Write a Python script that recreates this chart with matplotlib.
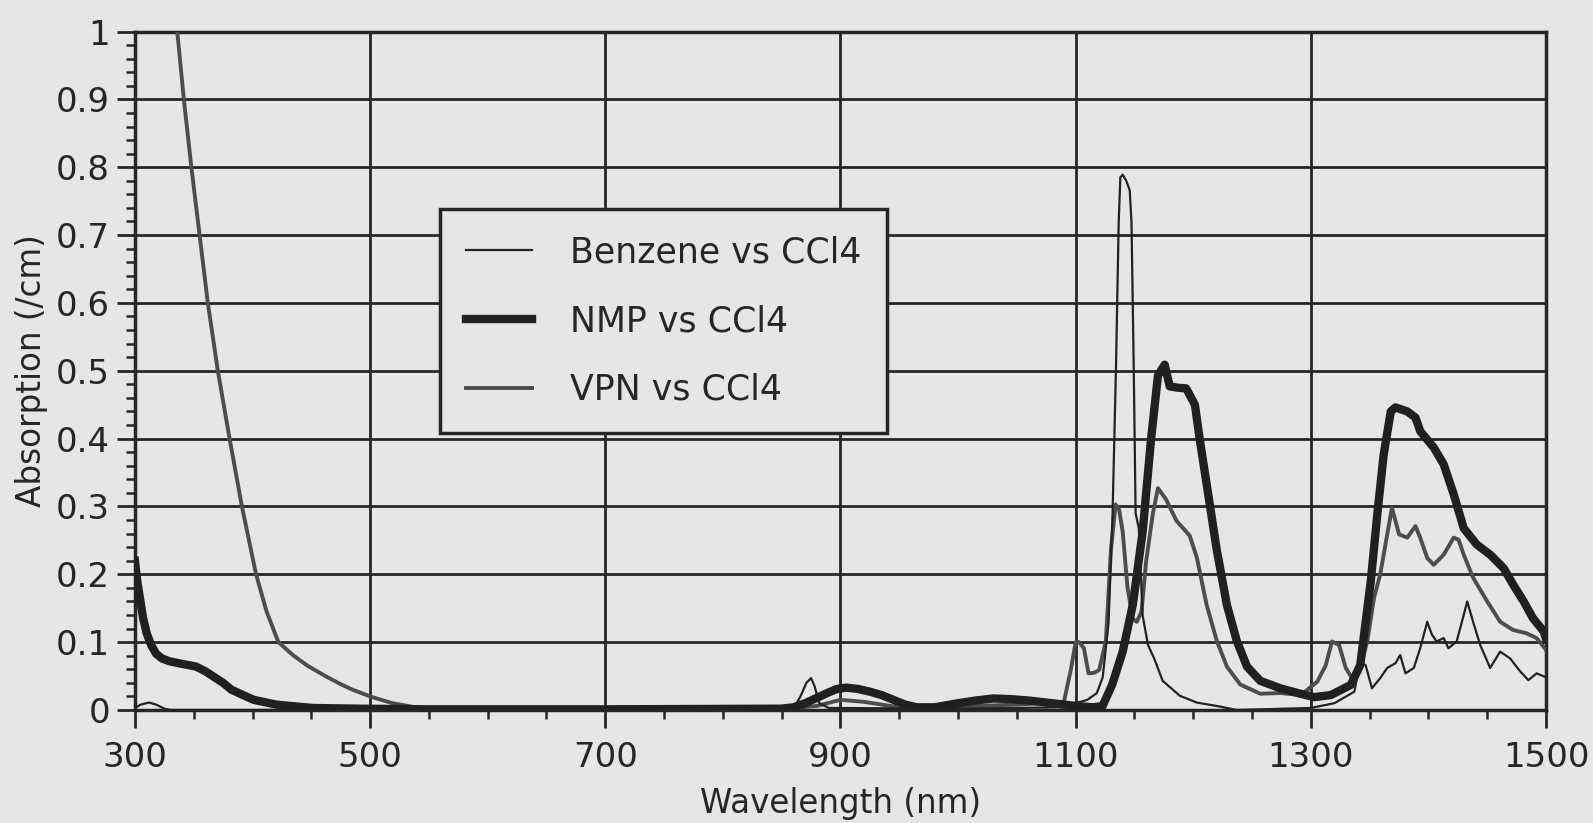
import matplotlib
matplotlib.use("Agg")
import matplotlib.pyplot as plt
from matplotlib.ticker import MultipleLocator

# Benzene vs CCl4 (thin line)
benz_wl = [300, 305, 312, 318, 325, 330, 600, 860, 866, 871, 875, 878, 882, 890,
           1000, 1090, 1098, 1104, 1110, 1118, 1123, 1128, 1131.4, 1134.3, 1136.6,
           1138, 1140, 1143, 1146, 1147.5, 1149.4, 1151, 1153.7, 1157, 1161.5, 1167,
           1174, 1188.6, 1203, 1223, 1237, 1300, 1320, 1330, 1337, 1342, 1346.6,
           1352, 1359, 1365, 1372, 1376, 1380.5, 1387.6, 1393, 1399, 1403, 1407,
           1413, 1417, 1424, 1430, 1433, 1438, 1444, 1452.5, 1461, 1469.5, 1478,
           1485, 1492, 1499, 1500]
benz_abs = [0.003, 0.008, 0.011, 0.008, 0.002, 0.0, 0.0, 0.002, 0.02, 0.04, 0.047,
            0.035, 0.01, 0.003, 0.002, 0.004, 0.01, 0.012, 0.015, 0.025, 0.048,
            0.129, 0.29, 0.504, 0.718, 0.785, 0.789, 0.78, 0.766, 0.718, 0.504,
            0.29, 0.268, 0.139, 0.096, 0.075, 0.043, 0.021, 0.011, 0.005, 0.0,
            0.003, 0.01, 0.02, 0.027, 0.071, 0.066, 0.032, 0.047, 0.062, 0.069,
            0.081, 0.054, 0.062, 0.091, 0.13, 0.111, 0.101, 0.106, 0.091, 0.101,
            0.14, 0.16, 0.13, 0.096, 0.062, 0.086, 0.076, 0.057, 0.044, 0.054,
            0.049, 0.05]

# NMP vs CCl4 (thick line)
nmp_wl = [300, 302, 304.5, 307, 310, 314, 318, 323, 329, 340, 352, 360, 367, 375,
          382, 392, 401, 420, 451, 489, 550, 700, 850, 860, 870, 880, 890, 897, 905,
          915, 925, 935, 945, 955, 965, 980, 1000, 1015, 1030, 1045, 1060, 1080,
          1100, 1115, 1122.9, 1131, 1140, 1148.6, 1157, 1164, 1170, 1175.7, 1180,
          1187, 1194, 1201.4, 1205.7, 1212.9, 1220, 1228.6, 1237, 1245.7, 1257,
          1274, 1291, 1303, 1317, 1334, 1342, 1351, 1356.5, 1362, 1368, 1372, 1382,
          1389, 1393, 1404.5, 1413, 1421.5, 1430, 1441, 1452.5, 1464, 1472, 1481,
          1489, 1498, 1500]
nmp_abs = [0.22, 0.19, 0.162, 0.135, 0.113, 0.095, 0.083, 0.076, 0.072, 0.068,
           0.064, 0.057, 0.049, 0.04, 0.03, 0.022, 0.015, 0.008, 0.003, 0.002,
           0.001, 0.001, 0.002, 0.004, 0.01, 0.018, 0.026, 0.031, 0.033, 0.031,
           0.027, 0.022, 0.015, 0.008, 0.004, 0.004, 0.01, 0.014, 0.017, 0.016,
           0.014, 0.01, 0.006, 0.004, 0.006, 0.037, 0.086, 0.155, 0.263, 0.397,
           0.493, 0.509, 0.477, 0.475, 0.474, 0.45, 0.397, 0.316, 0.236, 0.155,
           0.102, 0.064, 0.043, 0.032, 0.024, 0.019, 0.022, 0.037, 0.066, 0.19,
           0.288, 0.377, 0.44, 0.446, 0.44, 0.431, 0.411, 0.387, 0.362, 0.318,
           0.268, 0.244, 0.229, 0.209, 0.185, 0.16, 0.135, 0.116, 0.105]

# VPN vs CCl4 (grey line)
vpn_wl = [333, 336, 341.6, 348, 355, 362, 370.5, 380.5, 391, 403, 412, 422, 435,
          447, 462, 475, 485, 500, 519, 542, 555, 700, 860, 880, 900, 920, 950,
          1000, 1050, 1090, 1096, 1100, 1103, 1107, 1111, 1116, 1120, 1125.7, 1130,
          1134, 1137, 1140, 1144, 1148.6, 1152, 1156, 1160, 1165.7, 1170, 1177,
          1185.7, 1197, 1203, 1211.4, 1220, 1228.6, 1240, 1257, 1274, 1291.5,
          1305.6, 1312.7, 1318, 1324, 1329.7, 1335, 1342, 1348, 1353.7, 1359, 1365,
          1369, 1375, 1382, 1389, 1393, 1399, 1404.5, 1413, 1421.5, 1425.7, 1430,
          1438, 1450, 1461, 1472, 1483.6, 1492, 1499, 1500]
vpn_abs = [1.05, 1.0, 0.9, 0.8, 0.7, 0.6, 0.5, 0.4, 0.3, 0.2, 0.145, 0.1, 0.08,
           0.065, 0.05, 0.038, 0.03, 0.02, 0.01, 0.003, 0.0, 0.0, 0.003, 0.006,
           0.015, 0.012, 0.004, 0.005, 0.008, 0.012, 0.06, 0.1, 0.1, 0.091, 0.054,
           0.055, 0.059, 0.102, 0.236, 0.303, 0.295, 0.263, 0.182, 0.134, 0.13,
           0.145, 0.22, 0.29, 0.327, 0.31, 0.279, 0.257, 0.225, 0.155, 0.102,
           0.064, 0.0375, 0.024, 0.025, 0.022, 0.042, 0.066, 0.101, 0.096, 0.062,
           0.047, 0.062, 0.101, 0.165, 0.2, 0.259, 0.298, 0.259, 0.254, 0.271,
           0.254, 0.224, 0.214, 0.229, 0.254, 0.251, 0.229, 0.195, 0.16, 0.13,
           0.118, 0.113, 0.106, 0.091, 0.088]

x_ticks = [300, 500, 700, 900, 1100, 1300, 1500]
y_ticks = [0, 0.1, 0.2, 0.3, 0.4, 0.5, 0.6, 0.7, 0.8, 0.9, 1]
y_ticklabels = ["0", "0.1", "0.2", "0.3", "0.4", "0.5", "0.6", "0.7", "0.8", "0.9", "1"]

bg = "#e6e6e6"
ink = "#262626"

plt.rcParams["font.family"] = ["DejaVu Sans"]

fig = plt.figure(figsize=(15.93, 8.23), dpi=100, facecolor=bg)
ax = fig.add_axes([0.0847, 0.1373, 0.8858, 0.8244], facecolor=bg)

ax.plot(vpn_wl, vpn_abs, color="#4d4d4d", lw=2.8, label="VPN vs CCl4", zorder=3)
ax.plot(nmp_wl, nmp_abs, color="#202020", lw=6, label="NMP vs CCl4", zorder=4,
        solid_joinstyle="round")
ax.plot(benz_wl, benz_abs, color="#222222", lw=1.6, label="Benzene vs CCl4", zorder=5)

ax.set_xlim(300, 1500)
ax.set_ylim(0, 1)
ax.set_xticks(x_ticks)
ax.set_yticks(y_ticks)
ax.set_yticklabels(y_ticklabels)
ax.xaxis.set_minor_locator(MultipleLocator(50))
ax.yaxis.set_minor_locator(MultipleLocator(0.02))

ax.grid(True, which="major", color=ink, lw=2, zorder=1)
ax.set_axisbelow(True)
for s in ax.spines.values():
    s.set_color(ink)
    s.set_linewidth(2.5)

ax.tick_params(which="major", length=13, width=2, color=ink, labelsize=24.5,
               labelcolor=ink, direction="out")
ax.tick_params(which="minor", length=6.5, width=1.8, color=ink, direction="out")
ax.tick_params(axis="x", which="major", pad=9)
ax.tick_params(axis="y", which="major", pad=5)

ax.set_xlabel("Wavelength (nm)", fontsize=23.5, color=ink, labelpad=10)
ax.set_ylabel("Absorption (/cm)", fontsize=23.5, color=ink, labelpad=6)

h, l = ax.get_legend_handles_labels()
order = [2, 1, 0]
leg = ax.legend([h[i] for i in order], [l[i] for i in order],
                loc="upper left", bbox_to_anchor=(0.216, 0.738), borderaxespad=0,
                fontsize=25, frameon=True, fancybox=False, framealpha=1,
                facecolor=bg, edgecolor=ink, handlelength=1.9, handletextpad=1.1,
                labelspacing=1.0, borderpad=0.75)
leg.get_frame().set_linewidth(2.5)
for t in leg.get_texts():
    t.set_color(ink)
leg.set_zorder(6)

fig.savefig("out.png", dpi=100, facecolor=bg)
